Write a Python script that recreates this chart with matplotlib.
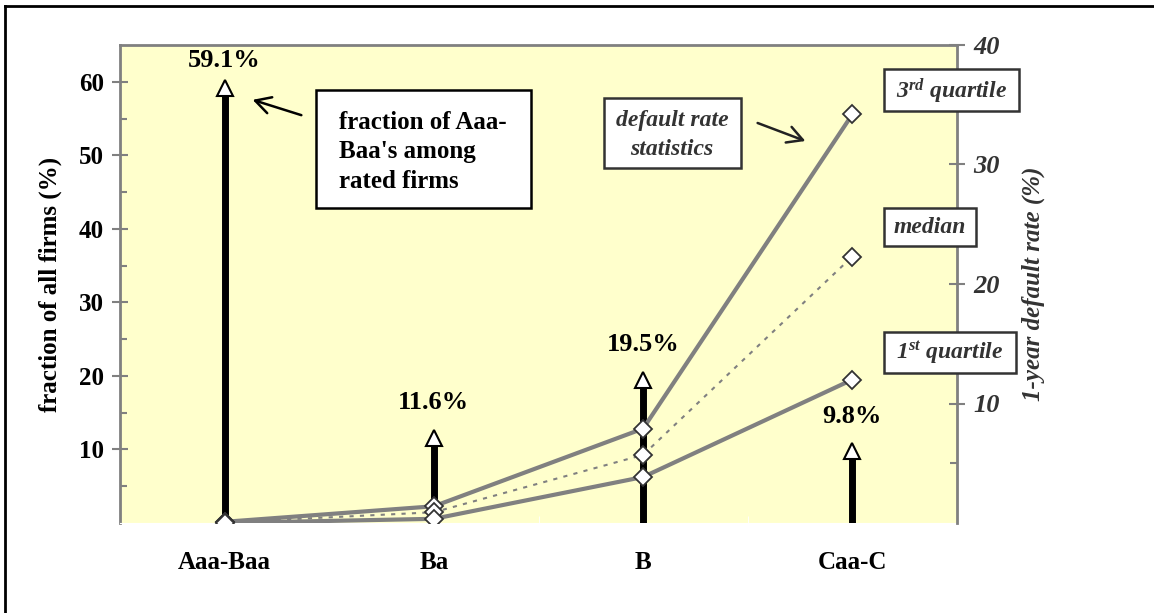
import numpy as np
import matplotlib.pyplot as plt
from matplotlib.lines import Line2D
from matplotlib.patches import Rectangle, FancyArrowPatch

plt.rcParams['font.family'] = ['Liberation Serif', 'DejaVu Serif']
plt.rcParams['mathtext.fontset'] = 'custom'
plt.rcParams['mathtext.it'] = 'Liberation Serif:italic:bold'
plt.rcParams['mathtext.rm'] = 'Liberation Serif:italic:bold'

ratings = ['Aaa-Baa', 'Ba', 'B', 'Caa-C']
share = [59.1, 11.6, 19.5, 9.8]           # fraction of all firms (%)
q3 = [0.1, 1.4, 7.9, 34.2]                # 3rd quartile default rate (%)
med = [0.05, 0.9, 5.7, 22.3]              # median default rate (%)
q1 = [0.0, 0.35, 3.85, 12.0]              # 1st quartile default rate (%)

W, H = 1154, 613
fig = plt.figure(figsize=(W / 100, H / 100), dpi=100)
ax = fig.add_axes([120 / W, 1 - 523 / H, 837 / W, 478 / H])
ax.set_facecolor('#FFFFCC')
x = np.arange(len(ratings))

def px(xp, yp):
    return xp / W, 1 - yp / H

# frame around figure
fig.add_artist(Line2D([5 / W, 5 / W], [0, 1 - 6 / H], color='black', lw=2, transform=fig.transFigure))
fig.add_artist(Line2D([5 / W, 1], [1 - 6 / H, 1 - 6 / H], color='black', lw=2, transform=fig.transFigure))

# share "arrows"
ax.vlines(x, 0, share, color='black', lw=5, zorder=3)
ax.plot(x, share, ls='none', marker='^', ms=12, mfc='white', mec='black', mew=1.5, zorder=4)
for xi, s in zip(x, share):
    off = 20 if s > 50 else 25
    ax.annotate('%.1f%%' % s, (xi, s), xytext=(0, off), textcoords='offset points',
                ha='center', va='center', fontsize=19, fontweight='bold')

ax.set_xlim(-0.5, 3.5)
ax.set_ylim(0, 65)
ax.set_xticks(x)
ax.set_xticklabels(ratings, fontsize=18, fontweight='bold')
ax.tick_params(axis='x', length=0, pad=20)
ax.set_xticks([0.5, 1.5, 2.5], minor=True)
ax.tick_params(axis='x', which='minor', length=5, direction='in', color='white')
ax.set_yticks([10, 20, 30, 40, 50, 60])
ax.set_yticks([5, 15, 25, 35, 45, 55], minor=True)
ax.tick_params(axis='y', which='major', direction='inout', length=11, color='#808080', width=1.5,
               labelsize=18, pad=6)
ax.tick_params(axis='y', which='minor', direction='in', length=5, color='#808080', width=1.5)
for lab in ax.get_yticklabels():
    lab.set_fontweight('bold')
ax.set_ylabel('fraction of all firms (%)', fontsize=18, fontweight='bold', labelpad=12)
for sp in ['top', 'left']:
    ax.spines[sp].set_color('#808080')
    ax.spines[sp].set_linewidth(2)
ax.spines['bottom'].set_color('white')
ax.spines['right'].set_visible(False)

# default rate statistics on right axis
ax2 = ax.twinx()
ax2.set_ylim(0, 40)
ax2.plot(x, q3, color='#808080', lw=3, zorder=2)
ax2.plot(x, med, color='#808080', lw=1.5, ls=(0, (2, 3)), zorder=2)
ax2.plot(x, q1, color='#808080', lw=3, zorder=2)
for ser in (q3, med, q1):
    ax2.plot(x, ser, ls='none', marker='D', ms=9, mfc='white', mec='#333333', mew=1.3, zorder=5)
ax2.set_yticks([10, 20, 30, 40])
ax2.set_yticks([5, 15, 25, 35], minor=True)
ax2.tick_params(axis='y', which='major', direction='inout', length=11, color='#808080', width=1.5,
                labelsize=19, labelcolor='#333333', pad=6)
ax2.tick_params(axis='y', which='minor', direction='in', length=5, color='#808080', width=1.5)
for lab in ax2.get_yticklabels():
    lab.set_fontweight('bold')
    lab.set_fontstyle('italic')
ax2.set_ylabel('1-year default rate (%)', fontsize=18, fontweight='bold', style='italic',
               color='#333333', labelpad=16)
for sp in ['top', 'left', 'bottom']:
    ax2.spines[sp].set_visible(False)
ax2.spines['right'].set_color('#808080')
ax2.spines['right'].set_linewidth(2)

# annotation boxes (pixel rectangles: x0, y0, x1, y1)
def box(x0, y0, x1, y1, ec):
    fig.add_artist(Rectangle(px(x0, y1), (x1 - x0) / W, (y1 - y0) / H, transform=fig.transFigure,
                             fc='white', ec=ec, lw=1.8, zorder=6))

box(316, 90, 531, 208, 'black')
t = fig.text(*px(339, 152), "fraction of Aaa-\nBaa's among\nrated firms", fontsize=18,
             fontweight='bold', ha='left', va='center', linespacing=1.35, zorder=7)

gray = '#333333'
box(604, 98, 741, 168, gray)
fig.text(*px(672, 135), 'default rate\nstatistics', fontsize=17, fontweight='bold',
         style='italic', color=gray, ha='center', va='center', linespacing=1.5, zorder=7)
box(884, 69, 1019, 111, gray)
fig.text(*px(951, 91), r'3$^{\mathit{rd}}$ quartile', fontsize=17, fontweight='bold',
         style='italic', color=gray, ha='center', va='center', zorder=7)
box(884, 208, 976, 246, gray)
fig.text(*px(930, 228), 'median', fontsize=17, fontweight='bold',
         style='italic', color=gray, ha='center', va='center', zorder=7)
box(884, 332, 1016, 373, gray)
fig.text(*px(950, 353), r'1$^{\mathit{st}}$ quartile', fontsize=17, fontweight='bold',
         style='italic', color=gray, ha='center', va='center', zorder=7)

fig.add_artist(FancyArrowPatch(px(304, 116), px(250, 99), transform=fig.transFigure,
                               arrowstyle='->,head_length=11,head_width=6', color='black',
                               lw=1.8, mutation_scale=1))
fig.add_artist(FancyArrowPatch(px(755, 122), px(808, 142), transform=fig.transFigure,
                               arrowstyle='->,head_length=11,head_width=6', color='#222222',
                               lw=1.8, mutation_scale=1))

fig.savefig('out.png', dpi=100)
